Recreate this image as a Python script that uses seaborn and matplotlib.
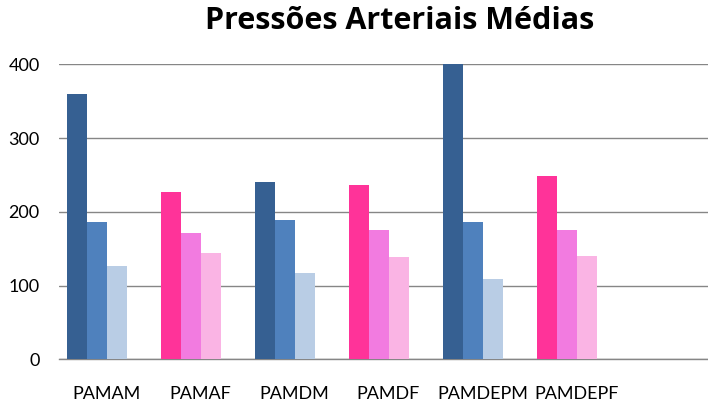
import matplotlib
matplotlib.use("Agg")
import matplotlib.pyplot as plt
import seaborn as sns
import pandas as pd

categories = ["PAMAM", "PAMAF", "PAMDM", "PAMDF", "PAMDEPM", "PAMDEPF"]
sex = ["M", "F", "M", "F", "M", "F"]
series = ["S1", "S2", "S3"]
s1 = [360, 227, 240, 236, 400, 248]
s2 = [186, 171, 189, 175, 186, 175]
s3 = [126, 144, 117, 139, 109, 140]
yticks = [0, 100, 200, 300, 400]

male_colors = ["#366092", "#4F81BD", "#B9CDE5"]
female_colors = ["#FF3399", "#F27BE0", "#FAB4E4"]

rows = []
for i, c in enumerate(categories):
    for s, vals in zip(series, [s1, s2, s3]):
        rows.append({"cat": c, "serie": s, "value": vals[i], "sex": sex[i]})
df = pd.DataFrame(rows)

sns.set_theme(style="white")
plt.rcParams["font.family"] = ["Lato", "DejaVu Sans"]

fig = plt.figure(figsize=(7.08, 4.09), dpi=100)
ax = fig.add_axes([59 / 708, (409 - 359.3) / 409, 1 - 59 / 708, (359.3 - 64.3) / 409])

for sx, pal in (("M", male_colors), ("F", female_colors)):
    sns.barplot(data=df[df["sex"] == sx], x="cat", y="value", hue="serie",
                order=categories, hue_order=series, palette=pal,
                width=0.64, saturation=1, legend=False, ax=ax, zorder=3,
                linewidth=0, edgecolor="none")

ax.set_xlim(-0.404, 6.5)
ax.set_ylim(0, 400)
ax.set_yticks(yticks)
ax.set_yticklabels([str(v) for v in yticks], fontsize=13, color="#000000")
ax.grid(axis="y", color="#868686", linewidth=1.0, zorder=0)
ax.grid(axis="x", visible=False)
for side in ("left", "right", "top"):
    ax.spines[side].set_visible(False)
ax.spines["bottom"].set_color("#868686")
ax.spines["bottom"].set_linewidth(1.0)

label_pos = [i + 0.1 for i in range(len(categories))]
ax.set_xticks(label_pos)
ax.set_xticklabels(categories, fontsize=13, color="#000000")
ax.tick_params(axis="x", length=0, pad=19)
ax.tick_params(axis="y", length=0, pad=14)
ax.set_xlabel("")
ax.set_ylabel("")

fig.text(400 / 708, 1 - 21 / 409, "Pressões Arteriais Médias", ha="center", va="center",
         fontsize=22, fontweight="bold", color="#000000", family=["Open Sans", "DejaVu Sans"])

fig.savefig("out.png", dpi=100)
